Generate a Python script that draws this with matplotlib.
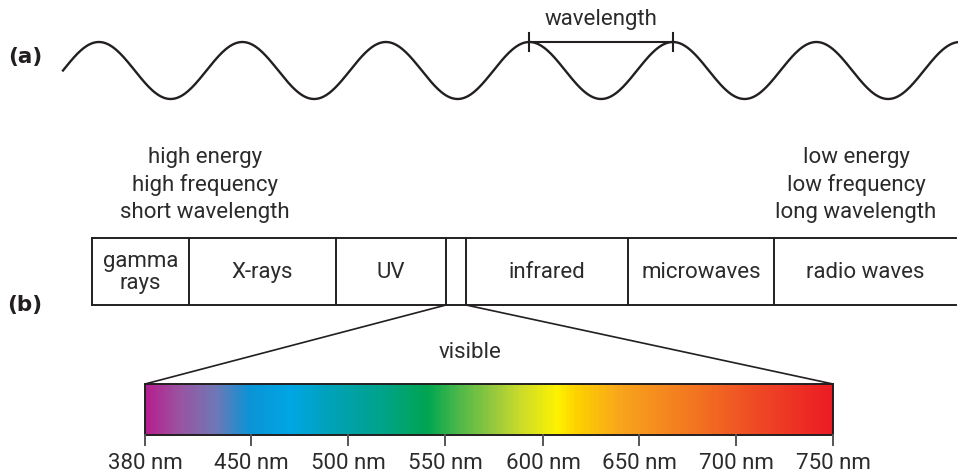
import numpy as np
import matplotlib
matplotlib.use("Agg")
import matplotlib.pyplot as plt
from matplotlib.colors import LinearSegmentedColormap

plt.rcParams['font.family'] = ['Roboto', 'DejaVu Sans']

# ---------------- data ----------------
band_labels = ['gamma\nrays', 'X-rays', 'UV', '', 'infrared', 'microwaves', 'radio waves']
high_end_text = ['high energy', 'high frequency', 'short wavelength']
low_end_text = ['low energy', 'low frequency', 'long wavelength']
tick_nm = [380, 450, 500, 550, 600, 650, 700, 750]
tick_labels = [f'{v} nm' for v in tick_nm]

# spectrum colour stops (fraction along bar, colour)
grad_pos = [0.0, 0.045, 0.10, 0.15, 0.21, 0.27, 0.34, 0.41, 0.455, 0.50, 0.545,
            0.60, 0.625, 0.69, 0.80, 0.89, 1.0]
grad_col = ['#b5208f', '#9b52a0', '#6f78b6', '#0a94d6', '#00a6e4', '#00a2b6', '#00a38c',
            '#00a551', '#4db848', '#8dc63f', '#cbdb2a', '#fff200', '#ffd400',
            '#f9a61c', '#f37521', '#ef4a26', '#ec1c24']

# ---------------- layout (pixels) ----------------
W, H = 958, 473
ink = '#231f20'
txt = '#2b2b2b'
fs = 16

fig = plt.figure(figsize=(W / 100, H / 100), dpi=100)
ax = fig.add_axes([0, 0, 1, 1])
ax.set_xlim(0, W)
ax.set_ylim(H, 0)
ax.axis('off')

# (a) wave
wave_x0, wave_x1, period, amp, yc = 63, 958, 143.5, 28.5, 70.5
xw = np.linspace(wave_x0, wave_x1, 800)
ax.plot(xw, yc - amp * np.sin(2 * np.pi * (xw - wave_x0) / period), color=ink, lw=1.7)
pk1 = wave_x0 + period / 4 + 3 * period
pk2 = pk1 + period
ax.plot([pk1, pk2], [yc - amp] * 2, color=ink, lw=1.5)
for px in (pk1, pk2):
    ax.plot([px, px], [yc - amp - 9, yc - amp + 9], color=ink, lw=1.5)
ax.text((pk1 + pk2) / 2, 20, 'wavelength', ha='center', va='center', fontsize=fs, color=txt)
ax.text(25, 57, '(a)', ha='center', va='center', fontsize=15.5, fontweight='bold',
        color=ink, family='DejaVu Sans')
ax.text(25, 305, '(b)', ha='center', va='center', fontsize=15.5, fontweight='bold',
        color=ink, family='DejaVu Sans')

# end labels
for i, t in enumerate(high_end_text):
    ax.text(205, 157 + 27.5 * i, t, ha='center', va='center', fontsize=fs, color=txt)
for i, t in enumerate(low_end_text):
    ax.text(856, 157 + 27.5 * i, t, ha='center', va='center', fontsize=fs, color=txt)

# (b) band box
band_edges = [92, 189, 336, 446, 466, 628, 774, 956]
box_top, box_bot = 238, 305
ax.plot([band_edges[0], band_edges[-1]], [box_top, box_top], color=ink, lw=1.4)
ax.plot([band_edges[0], band_edges[-1]], [box_bot, box_bot], color=ink, lw=1.4)
for e in band_edges[:-1]:
    ax.plot([e, e], [box_top, box_bot], color=ink, lw=1.4)
for i, lab in enumerate(band_labels):
    if lab:
        ax.text((band_edges[i] + band_edges[i + 1]) / 2, (box_top + box_bot) / 2 + 1, lab,
                ha='center', va='center', fontsize=fs, color=txt, linespacing=1.1)

# visible spectrum bar
bar_x0, bar_x1, bar_top, bar_bot = 145, 833, 384, 435
ax.plot([band_edges[3], bar_x0], [box_bot, bar_top], color=ink, lw=1.2)
ax.plot([band_edges[4], bar_x1], [box_bot, bar_top], color=ink, lw=1.2)
ax.text(470, 352, 'visible', ha='center', va='center', fontsize=fs, color=txt)

cmap = LinearSegmentedColormap.from_list('vis', list(zip(grad_pos, grad_col)))
ax.imshow(np.linspace(0, 1, 600)[None, :], cmap=cmap, aspect='auto',
          extent=[bar_x0, bar_x1, bar_bot, bar_top], zorder=1)
ax.add_patch(plt.Rectangle((bar_x0, bar_top), bar_x1 - bar_x0, bar_bot - bar_top,
                           fill=False, ec=ink, lw=1.4, zorder=2))
ax.set_xlim(0, W)
ax.set_ylim(H, 0)

tick_px = [145, 251, 348, 445, 543, 639, 736, 833]
for px, lab in zip(tick_px, tick_labels):
    ax.plot([px, px], [bar_bot, bar_bot + 10], color='#555555', lw=1.4)
    ax.text(px, 463, lab, ha='center', va='center', fontsize=fs, color=txt)

fig.savefig('out.png', dpi=100)
